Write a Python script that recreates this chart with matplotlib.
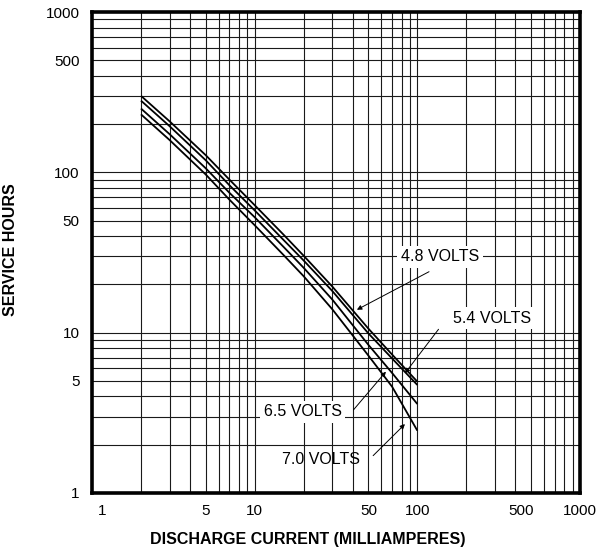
import matplotlib
matplotlib.use("Agg")
import matplotlib.pyplot as plt
import matplotlib.transforms as mtrans

plt.rcParams['font.family'] = ['Liberation Sans', 'DejaVu Sans']

# discharge current (mA) and service hours
current = [2, 3, 5, 7, 10, 15, 20, 30, 50, 70, 100]
hours_48 = [300, 208, 128, 90, 62.4, 41, 30.2, 19.4, 10.6, 7.3, 4.95]
hours_54 = [280, 194, 119, 83, 57.9, 38, 28.2, 18.2, 9.9, 6.9, 4.72]
hours_65 = [250, 173, 106, 74.5, 52.5, 34.4, 25.4, 16.1, 8.4, 5.6, 3.59]
hours_70 = [230, 159, 97, 67.5, 46.8, 30.6, 22.5, 14.0, 7.2, 4.6, 2.45]

tick_vals = [1, 5, 10, 50, 100, 500, 1000]
tick_text = ['1', '5', '10', '50', '100', '500', '1000']

fig = plt.figure(figsize=(6.02, 5.48), dpi=100)
ax = fig.add_axes([92 / 602, 1 - 493 / 548, 488 / 602, 481 / 548])

ax.set_xscale('log')
ax.set_yscale('log')
ax.set_xlim(1, 1000)
ax.set_ylim(1, 1000)

for h in [hours_48, hours_54, hours_65, hours_70]:
    ax.plot(current, h, color='black', lw=1.3, zorder=3, solid_capstyle='butt')

ax.grid(True, which='both', color='#1a1a1a', lw=0.8)
ax.set_axisbelow(True)

ax.set_xticks(tick_vals)
ax.set_xticklabels(tick_text)
ax.set_yticks(tick_vals)
ax.set_yticklabels(tick_text)
ax.tick_params(which='both', length=0, labelsize=11)
ax.tick_params(axis='x', pad=8)
ax.tick_params(axis='y', pad=9)

# nudge the "1" and "500" labels like the original
xl = ax.get_xticklabels()
xl[0].set_transform(xl[0].get_transform() + mtrans.ScaledTranslation(10 / 100, 0, fig.dpi_scale_trans))
xl[5].set_transform(xl[5].get_transform() + mtrans.ScaledTranslation(-10 / 100, 0, fig.dpi_scale_trans))

for s in ax.spines.values():
    s.set_linewidth(2.6)
    s.set_color('black')

ax.set_xlabel('DISCHARGE CURRENT (MILLIAMPERES)', fontsize=11.5, fontweight='bold')
ax.set_ylabel('SERVICE HOURS', fontsize=11.5, fontweight='bold')
ax.xaxis.set_label_coords(0.443, -0.081)
ax.yaxis.set_label_coords(-0.152, 0.505)

box = dict(fc='white', ec='none', pad=2.5)
arrow = dict(arrowstyle='-|>', lw=0.7, color='black', mutation_scale=7, shrinkA=0, shrinkB=0)

ax.text(137.7, 29.7, '4.8 VOLTS', fontsize=11.5, ha='center', va='center', bbox=box, zorder=4)
ax.annotate('', xy=(42.5, 13.9), xytext=(118, 24.0), arrowprops=arrow, zorder=4)

ax.text(290, 12.3, '5.4 VOLTS', fontsize=11.5, ha='center', va='center', bbox=box, zorder=4)
ax.annotate('', xy=(83.9, 5.58), xytext=(135, 10.5), arrowprops=arrow, zorder=4)

ax.text(19.7, 3.22, '6.5 VOLTS', fontsize=11.5, ha='center', va='center', bbox=box, zorder=4)
ax.annotate('', xy=(64.1, 5.71), xytext=(40.5, 3.3), arrowprops=arrow, zorder=4)

ax.text(25.5, 1.61, '7.0 VOLTS', fontsize=11.5, ha='center', va='center', zorder=4)
ax.annotate('', xy=(83.9, 2.69), xytext=(53.5, 1.71), arrowprops=arrow, zorder=4)

fig.savefig('out.png', dpi=100)
